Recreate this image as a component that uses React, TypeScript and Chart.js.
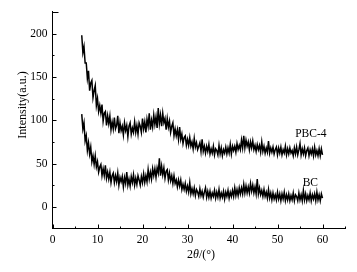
import { useEffect, useRef } from "react";
import { Chart, registerables } from "chart.js";

Chart.register(...registerables);

// 2θ sampling grid of the read-off series
const ANGLE_START = 6.5;
const ANGLE_STEP = 0.25;

// PBC-4 intensity (a.u.), sampled every 0.25° from 6.5° to 60°
const PBC4 = [
  198, 178,
  185, 166, 166, 148, // 7
  157, 134, 143, 146, // 8
  126, 134, 140, 117, // 9
  125, 110, 117, 108, // 10
  118, 99, 108, 110, // 11
  94, 105, 96, 105, // 12
  89, 98, 90, 103, // 13
  90, 94, 105, 85, // 14
  97, 88, 93, 83, // 15
  97, 88, 94, 81, // 16
  93, 97, 84, 91, // 17
  86, 98, 86, 94, // 18
  84, 97, 93, 86, // 19
  102, 90, 98, 86, // 20
  101, 93, 108, 89, // 21
  100, 92, 106, 95, // 22
  104, 91, 114, 96, // 23
  106, 93, 108, 97, // 24
  102, 89, 102, 92, // 25
  99, 86, 93, 97, // 26
  82, 90, 82, 89, // 27
  78, 92, 78, 84, // 28
  73, 80, 82, 71, // 29
  78, 71, 80, 70, // 30
  75, 67, 79, 69, // 31
  74, 66, 70, 74, // 32
  64, 78, 64, 70, // 33
  62, 70, 64, 72, // 34
  61, 67, 62, 70, // 35
  60, 67, 65, 60, // 36
  71, 61, 68, 59, // 37
  66, 62, 69, 61, // 38
  68, 62, 72, 61, // 39
  70, 65, 70, 63, // 40
  73, 66, 71, 66, // 41
  77, 68, 82, 68, // 42
  77, 70, 75, 66, // 43
  75, 68, 76, 66, // 44
  71, 64, 72, 66, // 45
  71, 63, 75, 64, // 46
  70, 62, 68, 63, // 47
  76, 62, 68, 63, // 48
  69, 61, 66, 69, // 49
  60, 68, 62, 69, // 50
  60, 66, 62, 70, // 51
  60, 67, 61, 68, // 52
  62, 65, 59, 68, // 53
  61, 69, 60, 66, // 54
  73, 60, 67, 61, // 55
  68, 59, 65, 68, // 56
  59, 66, 61, 67, // 57
  59, 69, 60, 65, // 58
  59, 67, 59, 67, // 59
  60,
];

// BC intensity (a.u.), same sampling
const BC = [
  107, 90,
  97, 76, 82, 65, // 7
  74, 61, 69, 52, // 8
  59, 49, 59, 46, // 9
  52, 40, 46, 49, // 10
  36, 44, 36, 48, // 11
  33, 40, 32, 40, // 12
  28, 36, 39, 28, // 13
  36, 29, 39, 25, // 14
  34, 29, 35, 23, // 15
  34, 27, 40, 25, // 16
  32, 24, 35, 28, // 17
  37, 25, 33, 26, // 18
  36, 31, 25, 35, // 19
  28, 38, 28, 36, // 20
  29, 43, 32, 40, // 21
  32, 44, 36, 44, // 22
  34, 45, 39, 56, // 23
  36, 47, 37, 45, // 24
  33, 41, 43, 31, // 25
  39, 30, 36, 27, // 26
  36, 27, 31, 23, // 27
  31, 24, 31, 20, // 28
  26, 20, 27, 18, // 29
  24, 17, 28, 15, // 30
  21, 15, 22, 13, // 31
  20, 17, 12, 21, // 32
  13, 18, 11, 17, // 33
  22, 11, 18, 11, // 34
  18, 10, 16, 12, // 35
  19, 10, 17, 11, // 36
  20, 10, 16, 11, // 37
  18, 9, 17, 12, // 38
  19, 10, 17, 12, // 39
  19, 12, 22, 13, // 40
  20, 13, 22, 15, // 41
  22, 15, 26, 16, // 42
  24, 16, 23, 16, // 43
  27, 18, 25, 16, // 44
  23, 15, 32, 15, // 45
  22, 14, 19, 12, // 46
  20, 12, 17, 10, // 47
  20, 10, 16, 8, // 48
  16, 9, 14, 8, // 49
  17, 9, 15, 7, // 50
  15, 9, 17, 7, // 51
  14, 8, 15, 7, // 52
  13, 8, 16, 7, // 53
  14, 12, 7, 16, // 54
  8, 14, 7, 19, // 55
  8, 15, 7, 13, // 56
  8, 16, 7, 14, // 57
  9, 15, 7, 17, // 58
  8, 14, 7, 15, // 59
  10,
];

const X_TICKS = [0, 10, 20, 30, 40, 50, 60];
const X_MINOR = [5, 15, 25, 35, 45, 55, 65];
const Y_TICKS = [0, 50, 100, 150, 200];
const Y_MINOR = [25, 75, 125, 175];
const Y_TOP = [225];

const SERIES_NAMES = ["PBC-4", "BC"];
const NAME_X = [57.4, 57.3];
const NAME_Y = [84, 28];

const FONT = "'Liberation Serif', 'Times New Roman', serif";

const toPoints = (vals: number[]) =>
  vals.map((v, i) => ({ x: ANGLE_START + i * ANGLE_STEP, y: v }));

const decor = {
  id: "decor",
  afterDraw(chart: any) {
    const { ctx, chartArea } = chart;
    const xs = chart.scales.x;
    const ys = chart.scales.y;
    ctx.save();
    ctx.strokeStyle = "#000";
    ctx.lineWidth = 1;
    ctx.beginPath();
    const xTick = (v: number, len: number) => {
      const px = Math.round(xs.getPixelForValue(v)) + 0.5;
      ctx.moveTo(px, chartArea.bottom);
      ctx.lineTo(px, chartArea.bottom - len);
    };
    const yTick = (v: number, len: number) => {
      const py = Math.round(ys.getPixelForValue(v)) + 0.5;
      ctx.moveTo(chartArea.left, py);
      ctx.lineTo(chartArea.left + len, py);
    };
    X_TICKS.forEach((v) => xTick(v, 4));
    X_MINOR.forEach((v) => xTick(v, 2));
    Y_TICKS.forEach((v) => yTick(v, 4));
    Y_MINOR.forEach((v) => yTick(v, 2));
    Y_TOP.forEach((v) => yTick(v, 6));
    ctx.stroke();

    ctx.fillStyle = "#000";
    ctx.textBaseline = "middle";
    ctx.textAlign = "center";
    ctx.font = `11.5px ${FONT}`;
    SERIES_NAMES.forEach((name, i) => {
      ctx.fillText(name, xs.getPixelForValue(NAME_X[i]), ys.getPixelForValue(NAME_Y[i]));
    });

    // y title
    ctx.font = `12px ${FONT}`;
    ctx.save();
    ctx.translate(23, 105);
    ctx.rotate(-Math.PI / 2);
    ctx.fillText("Intensity(a.u.)", 0, 0);
    ctx.restore();

    // x title: 2θ/(°) with italic θ
    const parts = [
      { t: "2", f: `12px ${FONT}` },
      { t: "θ", f: `italic 12px ${FONT}` },
      { t: "/(°)", f: `12px ${FONT}` },
    ];
    let total = 0;
    parts.forEach((p) => {
      ctx.font = p.f;
      total += ctx.measureText(p.t).width;
    });
    let cx = 201 - total / 2;
    ctx.textAlign = "left";
    parts.forEach((p) => {
      ctx.font = p.f;
      ctx.fillText(p.t, cx, 255);
      cx += ctx.measureText(p.t).width;
    });
    ctx.restore();
  },
};

export default function App() {
  const ref = useRef<HTMLCanvasElement | null>(null);
  useEffect(() => {
    document.body.style.margin = "0";
    const canvas = ref.current;
    if (!canvas) return;
    const chart = new Chart(canvas, {
      type: "line",
      data: {
        datasets: [
          { label: SERIES_NAMES[0], data: toPoints(PBC4) },
          { label: SERIES_NAMES[1], data: toPoints(BC) },
        ].map((d) => ({
          ...d,
          borderColor: "#000",
          borderWidth: 1.5,
          pointRadius: 0,
          tension: 0,
          fill: false,
        })),
      },
      options: {
        animation: false,
        responsive: false,
        events: [],
        layout: { padding: { top: 10, right: 12, left: 0, bottom: 0 } },
        plugins: { legend: { display: false }, tooltip: { enabled: false } },
        scales: {
          x: {
            type: "linear",
            min: 0,
            max: 65,
            afterBuildTicks: (s: any) => {
              s.ticks = X_TICKS.map((v) => ({ value: v }));
            },
            afterFit: (s: any) => {
              s.height = 43.5;
            },
            grid: { display: false, drawTicks: false },
            border: { display: true, color: "#000", width: 1 },
            ticks: {
              font: { family: FONT, size: 11.5 },
              color: "#000",
              padding: 5,
              maxRotation: 0,
              autoSkip: false,
            },
          },
          y: {
            type: "linear",
            min: -25,
            max: 225,
            afterBuildTicks: (s: any) => {
              s.ticks = Y_TICKS.map((v) => ({ value: v }));
            },
            afterFit: (s: any) => {
              s.width = 52.5;
            },
            grid: { display: false, drawTicks: false },
            border: { display: true, color: "#000", width: 1 },
            ticks: {
              font: { family: FONT, size: 11.5 },
              color: "#000",
              padding: 5,
              autoSkip: false,
            },
          },
        },
      },
      plugins: [decor],
    });
    return () => chart.destroy();
  }, []);
  return (
    <div style={{ width: 357, height: 272 }}>
      <canvas ref={ref} width={357} height={272} />
    </div>
  );
}
